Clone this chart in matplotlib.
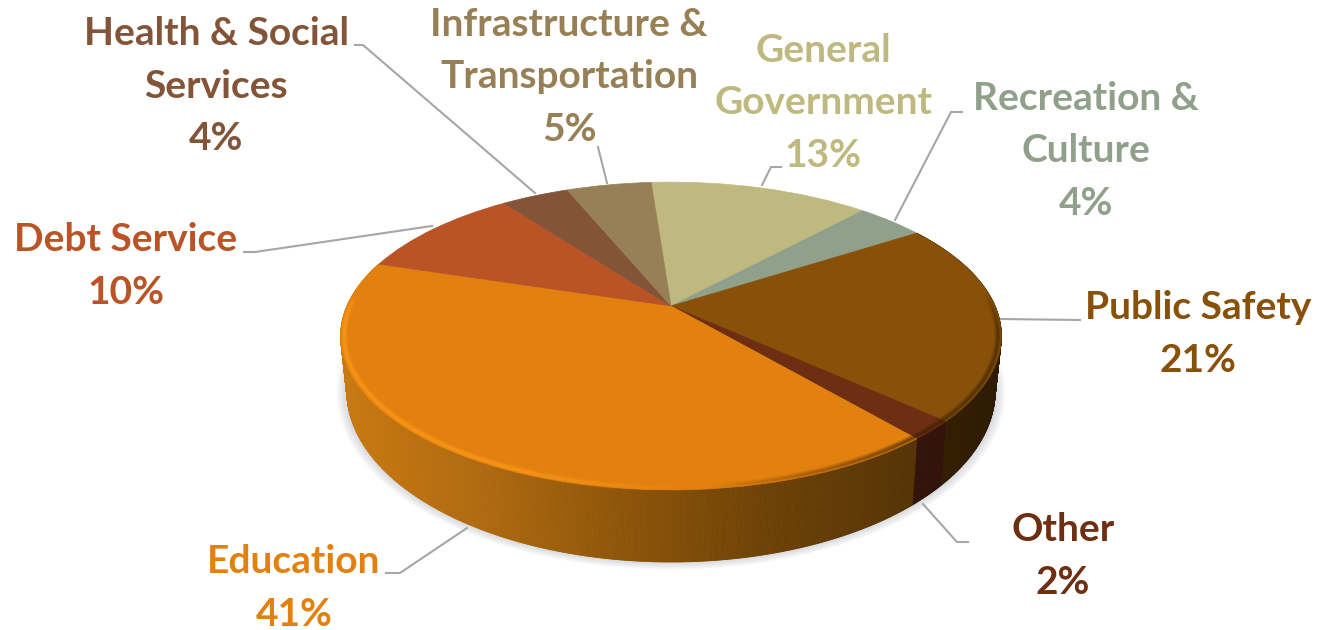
"""3D-look budget pie: top from ax.pie, side wall from strips, both through a perspective transform."""

import matplotlib

matplotlib.use("Agg")
import matplotlib.pyplot as plt
import numpy as np
from matplotlib.collections import LineCollection, PolyCollection
from matplotlib.colors import to_rgb
from matplotlib.transforms import Transform

plt.rcParams["font.family"] = ["Lato", "DejaVu Sans"]

names = ["General\nGovernment", "Recreation &\nCulture", "Public Safety", "Other",
         "Education", "Debt Service", "Health & Social\nServices", "Infrastructure &\nTransportation"]
values = [13, 4, 21, 2, 41, 10, 4, 5]
colors = ["#BFB97F", "#91A08A", "#885008", "#6E2E12", "#E2810F", "#BA5427", "#835438", "#978055"]

# label centres and leader lines, pixels
label_xy = [(823, 103), (1086, 151), (1198, 334), (1063, 556),
            (294, 588), (126, 266), (216, 86), (569, 77)]
leaders = [[(762, 185), (771, 167), (781, 167)],
           [(895, 220), (951, 112), (962, 112)],
           [(1001, 319), (1080, 320)],
           [(923, 504), (957, 542), (968, 542)],
           [(467, 528), (400, 573), (386, 573)],
           [(432, 226), (255, 252), (244, 252)],
           [(535, 193), (363, 45), (355, 45)],
           [(607, 183), (598, 147)]]

# side wall colour ramps against pixel x
wall_ramps = {
    2: ([900, 1000], ["#3A2203", "#2E1B02"]),
    3: ([900, 950], ["#34140A", "#34140A"]),
    4: ([345, 480, 630, 780, 910], ["#C87A12", "#B06A10", "#8C5409", "#6B4006", "#573405"]),
}

CX = 671
K = 0.195


class Tilt(Transform):
    """Unit disc to pixels, near side bigger than far side."""
    input_dims = output_dims = 2
    is_affine = False

    def __init__(self, r, a, cy):
        super().__init__()
        self.r, self.a, self.cy = r, a, cy

    def transform_non_affine(self, xy):
        xy = np.asarray(xy, dtype=float)
        w = 1 + K * xy[:, 1]
        return np.column_stack([CX + self.r * xy[:, 0] / w, self.cy - self.a * xy[:, 1] / w])


top = Tilt(324, 148, 306)
bottom = Tilt(318, 165, 357)


def ring(tr, t, scale=1.0):
    t = np.radians(t)
    return tr.transform_non_affine(scale * np.column_stack([np.cos(t), np.sin(t)]))


def rim_shade(t, rgb, alpha, scale=0.99):
    # soft stroke along the top rim, alpha is one value per point of t
    pts = ring(top, t, scale)
    segs = np.stack([pts[:-1], pts[1:]], axis=1)
    for lw, part in [(5, 0.25), (3.2, 0.35), (1.6, 0.5)]:
        ax.add_collection(LineCollection(segs, colors=[(*rgb, a * part) for a in alpha[:-1]],
                                         linewidths=lw, zorder=6))


fig = plt.figure(figsize=(13.17, 6.30), dpi=100)
ax = fig.add_axes([0, 0, 1, 1])

wedges, _ = ax.pie(values, colors=colors, startangle=94.2, counterclock=False,
                   wedgeprops=dict(linewidth=0.5, zorder=5))
for w, c in zip(wedges, colors):
    w.set_edgecolor(c)
    w.set_transform(top + ax.transData)

ax.set_aspect("auto")
ax.set_xlim(0, 1317)
ax.set_ylim(630, 0)
ax.axis("off")

# soft shadow under the pie
circle = np.linspace(0, 360, 361)
for grow in np.linspace(1.03, 1.0, 10):
    ax.fill(*ring(bottom, circle, grow).T, color="#7E8794", alpha=0.035, lw=0, zorder=1)

# side wall
for i, (xs, cols) in wall_ramps.items():
    t = np.linspace(wedges[i].theta1, wedges[i].theta2, int((wedges[i].theta2 - wedges[i].theta1) * 4) + 2)
    up, lo = ring(top, t), ring(bottom, t)
    quads = [[up[j], up[j + 1], lo[j + 1], lo[j]] for j in range(len(t) - 1)]
    mid = (up[:-1, 0] + up[1:, 0]) / 2
    rgb = np.array([to_rgb(c) for c in cols])
    strip = np.column_stack([np.interp(mid, xs, rgb[:, n]) for n in range(3)])
    ax.add_collection(PolyCollection(quads, facecolors=strip, edgecolors=strip, linewidths=0.6, zorder=3))

# bevel on the rim: bright at the left of Education, dark toward the right side
t = np.linspace(-85, -185, 120)
rim_shade(t, (1.0, 0.6, 0.1), np.clip((t + 85) / -30, 0, 1) * np.clip((t + 185) / 8, 0, 1))
t = np.linspace(-85, -49.8, 50)
rim_shade(t, (0.25, 0.14, 0.02), np.clip((t + 85) / 35, 0, 1) * 0.8)
t = np.linspace(-49.8, 5, 50)
rim_shade(t, (0.2, 0.12, 0.01), np.clip((t - 5) / -15, 0, 1) * 0.65)

# leader lines
for line in leaders:
    ax.plot(*zip(*line), color="#A6A6A6", lw=1.5, zorder=4, solid_joinstyle="miter")

# labels
for name, v, c, (x, y) in zip(names, values, colors, label_xy):
    ax.text(x, y, f"{name}\n{v}%", color=c, ha="center", va="center", fontsize=28,
            fontweight="bold", linespacing=1.6, zorder=7)

fig.savefig("out.png", dpi=100)
